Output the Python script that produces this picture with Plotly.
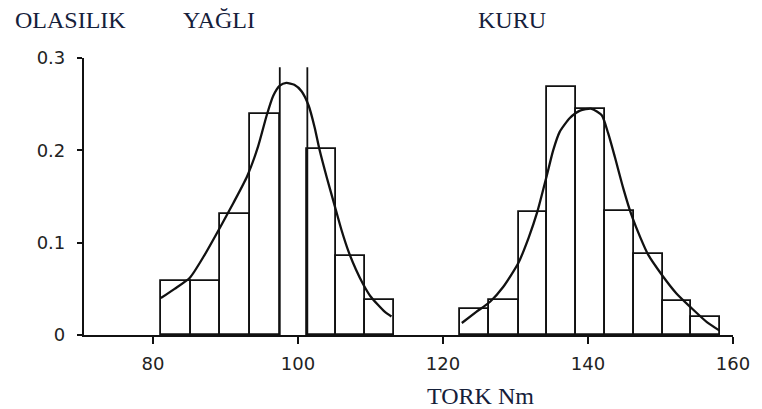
import plotly.graph_objects as go

# ---- data ----
yagli_edges = [81.1, 85.2, 89.2, 93.4, 97.5, 101.3, 105.2, 109.3, 113.2]
yagli_prob = [0.059, 0.059, 0.131, 0.239, 0.290, 0.201, 0.086, 0.038]

kuru_edges = [122.3, 126.4, 130.5, 134.4, 138.4, 142.3, 146.4, 150.3, 154.2, 158.2]
kuru_prob = [0.028, 0.038, 0.133, 0.269, 0.245, 0.134, 0.088, 0.037, 0.020]

yagli_curve_x = [81.1, 83.0, 85.1, 87.0, 89.3, 91.1, 93.0, 94.5, 95.7, 96.6, 97.5,
                 98.4, 99.5, 100.5, 101.5, 102.3, 103.0, 104.0, 105.0, 106.0, 107.0,
                 108.0, 109.0, 110.0, 111.0, 112.0, 112.9]
yagli_curve_y = [0.040, 0.050, 0.062, 0.085, 0.117, 0.143, 0.172, 0.204, 0.238, 0.259, 0.270,
                 0.273, 0.271, 0.264, 0.248, 0.225, 0.200, 0.170, 0.142, 0.114, 0.090,
                 0.071, 0.055, 0.042, 0.033, 0.025, 0.020]

kuru_curve_x = [122.6, 124.6, 126.5, 128.3, 130.4, 131.8, 133.0, 134.3, 135.2, 136.1,
                137.5, 138.9, 140.5, 141.9, 142.8, 143.7, 144.9, 146.0, 147.2, 148.3,
                150.2, 152.2, 154.3, 156.4, 158.1]
kuru_curve_y = [0.013, 0.025, 0.036, 0.052, 0.078, 0.105, 0.133, 0.172, 0.200, 0.220,
                0.235, 0.243, 0.245, 0.238, 0.218, 0.193, 0.158, 0.130, 0.106, 0.087,
                0.065, 0.045, 0.029, 0.014, 0.005]

x_ticks = [80, 100, 120, 140, 160]
y_ticks = [0, 0.1, 0.2, 0.3]
y_tick_text = ["0", "0.1", "0.2", "0.3"]

OPEN_TOP_INDEX = 4  # yağlı peak bin is drawn without its top edge in the source

INK = "#111111"
TEXT = "#15203a"

fig = go.Figure()


def add_hist(edges, probs, skip=None):
    xs, ws, hs = [], [], []
    for i, h in enumerate(probs):
        l, r = edges[i], edges[i + 1]
        if i == skip:
            fig.add_trace(go.Scatter(
                x=[l, l, None, r, r], y=[0, h, None, 0, h], mode="lines",
                line=dict(color=INK, width=1.8), hoverinfo="skip", showlegend=False))
            continue
        xs.append((l + r) / 2)
        ws.append(r - l)
        hs.append(h)
    fig.add_trace(go.Bar(
        x=xs, y=hs, width=ws,
        marker=dict(color="white", line=dict(color=INK, width=1.8)),
        showlegend=False))


add_hist(yagli_edges, yagli_prob, skip=OPEN_TOP_INDEX)
add_hist(kuru_edges, kuru_prob)

for cx, cy in [(yagli_curve_x, yagli_curve_y), (kuru_curve_x, kuru_curve_y)]:
    fig.add_trace(go.Scatter(
        x=cx, y=cy, mode="lines",
        line=dict(color=INK, width=2.3, shape="spline", smoothing=0.6),
        showlegend=False))

W, H = 762, 409
L, R, T, B = 84, 29, 58, 74
pw, ph = W - L - R, H - T - B


def px(xp):
    return (xp - L) / pw


def py(yp):
    return (H - B - yp) / ph


title_font = dict(family="Liberation Serif", size=24, color=TEXT)
ann = [
    dict(text="OLASILIK", x=px(70), y=py(20)),
    dict(text="YAĞLI", x=px(219), y=py(20)),
    dict(text="KURU", x=px(512), y=py(20)),
    dict(text="TORK Nm", x=px(480), y=py(396)),
]
annotations = [dict(a, xref="paper", yref="paper", xanchor="center", yanchor="middle",
                    showarrow=False, font=title_font) for a in ann]

fig.update_layout(
    width=W, height=H,
    margin=dict(l=L, r=R, t=T, b=B),
    paper_bgcolor="white", plot_bgcolor="white",
    barmode="overlay", bargap=0,
    annotations=annotations,
    font=dict(family="DejaVu Sans", size=18, color="#222222"),
)
fig.update_xaxes(
    range=[70.5, 160], tickvals=x_ticks, ticks="outside", ticklen=7, tickwidth=2,
    tickcolor=INK, showline=True, linecolor=INK, linewidth=2.2, showgrid=False,
    zeroline=False, ticklabelstandoff=4,
    tickfont=dict(family="DejaVu Sans", size=18, color="#222222"),
)
fig.update_yaxes(
    range=[0, 0.3], tickvals=y_ticks, ticktext=y_tick_text, ticks="outside", ticklen=5,
    tickwidth=2, tickcolor=INK, showline=True, linecolor=INK, linewidth=2.2,
    showgrid=False, zeroline=False, ticklabelstandoff=8,
    tickfont=dict(family="DejaVu Sans", size=18, color="#222222"),
)

fig.write_html("out.html")
